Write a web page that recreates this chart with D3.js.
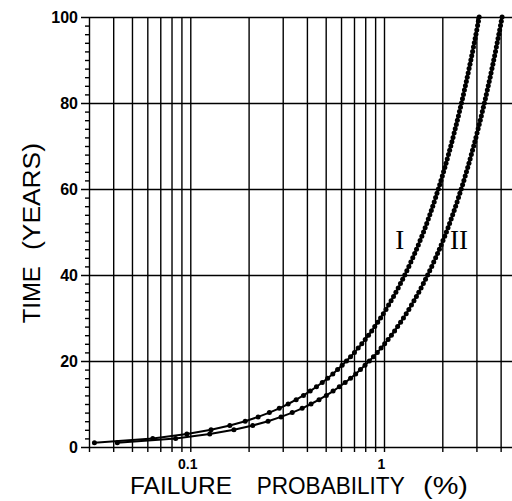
<!DOCTYPE html>
<meta charset="utf-8">
<html>
<head>
<style>
  body { margin: 0; background: #fff; }
  .tick text { font-family: "Liberation Sans", Arial, sans-serif; fill: #000; }
  .tick line { stroke: #000; stroke-width: 1.4; }
  .title { font-family: "Liberation Sans", Arial, sans-serif; font-size: 23px; fill: #000; }
  .curve-label { font-family: "Liberation Serif", "Times New Roman", serif; font-size: 27px; fill: #000; }
</style>
<title></title>
</head>
<body>
<div id="chart"></div>

<script src="https://d3js.org/d3.v7.min.js"></script>
<script>

// time in years (one marker per year)
var years = [1,2,3,4,5,6,7,8,9,10,11,12,13,14,15,16,17,18,19,20,
  21,22,23,24,25,26,27,28,29,30,31,32,33,34,35,36,37,38,39,40,
  41,42,43,44,45,46,47,48,49,50,51,52,53,54,55,56,57,58,59,60,
  61,62,63,64,65,66,67,68,69,70,71,72,73,74,75,76,77,78,79,80,
  81,82,83,84,85,86,87,88,89,90,91,92,93,94,95,96,97,98,99,100];

// failure probability (%) of curve I
var probI = [0.032,0.064,0.096,0.128,0.160,0.192,0.224,0.256,0.288,0.320,
  0.352,0.384,0.416,0.448,0.480,0.512,0.544,0.576,0.608,0.640,
  0.672,0.704,0.736,0.768,0.800,0.832,0.864,0.896,0.928,0.960,
  0.992,1.024,1.056,1.088,1.120,1.152,1.184,1.216,1.248,1.280,
  1.312,1.344,1.376,1.408,1.440,1.472,1.504,1.536,1.568,1.600,
  1.631,1.662,1.693,1.724,1.755,1.785,1.816,1.847,1.877,1.908,
  1.939,1.969,2.000,2.030,2.061,2.091,2.121,2.152,2.182,2.212,
  2.242,2.272,2.302,2.332,2.363,2.392,2.422,2.452,2.482,2.512,
  2.542,2.572,2.601,2.631,2.661,2.690,2.720,2.749,2.779,2.808,
  2.837,2.867,2.896,2.925,2.955,2.984,3.013,3.042,3.071,3.100];

// failure probability (%) of curve II
var probII = [0.042,0.084,0.126,0.168,0.210,0.252,0.294,0.336,0.378,0.420,
  0.462,0.504,0.546,0.588,0.630,0.672,0.714,0.756,0.798,0.840,
  0.882,0.924,0.966,1.008,1.050,1.092,1.134,1.176,1.218,1.260,
  1.302,1.344,1.386,1.428,1.470,1.512,1.554,1.596,1.638,1.680,
  1.722,1.764,1.806,1.848,1.890,1.932,1.974,2.016,2.058,2.100,
  2.141,2.181,2.222,2.262,2.303,2.343,2.384,2.424,2.464,2.504,
  2.545,2.585,2.625,2.665,2.705,2.745,2.784,2.824,2.864,2.904,
  2.943,2.983,3.022,3.062,3.101,3.141,3.180,3.219,3.258,3.298,
  3.337,3.376,3.415,3.454,3.493,3.532,3.570,3.609,3.648,3.686,
  3.725,3.764,3.802,3.840,3.879,3.917,3.955,3.994,4.032,4.070];

// grid lines / ticks
var xGridValues = [0.03,0.04,0.05,0.06,0.07,0.08,0.09,
  0.1,0.2,0.3,0.4,0.5,0.6,0.7,0.8,0.9,1,2,3,4,5];
var xLabelValues = [0.1, 1];
var yTickValues = [0,20,40,60,80,100];
var yMinorValues = [2,4,6,8,10,12,14,16,18,22,24,26,28,30,32,34,36,38,
  42,44,46,48,50,52,54,56,58,62,64,66,68,70,72,74,76,78,
  82,84,86,88,90,92,94,96,98];

var margin = {top: 17, left: 89},
    width = 430.4,
    height = 430;

var svg = d3.select("#chart")
  .append("svg")
    .attr("width", 512)
    .attr("height", 501)
  .append("g")
    .attr("transform", "translate(" + margin.left + "," + margin.top + ")");

var x = d3.scaleLog()
  .domain([0.03, 5])
  .range([0, width]);

var y = d3.scaleLinear()
  .domain([0, 100])
  .range([height, 0]);

// vertical grid + x ticks
var xAxis = svg.append("g")
  .attr("transform", "translate(0," + height + ")")
  .call(d3.axisBottom(x)
    .tickValues(xGridValues)
    .tickSize(-height)
    .tickSizeOuter(0)
    .tickFormat(function(d) { return xLabelValues.indexOf(d) >= 0 ? String(d) : ""; }));
xAxis.select(".domain").remove();
xAxis.selectAll(".tick line").attr("y1", 5);
xAxis.selectAll(".tick text")
  .attr("y", 22)
  .attr("dy", 0)
  .attr("dx", -3)
  .style("font-size", "14px")
  .style("font-weight", "bold");

// horizontal grid + y ticks
var yAxis = svg.append("g")
  .call(d3.axisLeft(y)
    .tickValues(yTickValues)
    .tickSize(-(512 - margin.left))
    .tickSizeOuter(0)
    .tickPadding(11));
yAxis.select(".domain").remove();
yAxis.selectAll(".tick line").attr("x1", -8);
yAxis.selectAll(".tick text")
  .style("font-size", "16px")
  .style("font-weight", "bold");

// minor y ticks
var yMinor = svg.append("g")
  .call(d3.axisLeft(y)
    .tickValues(yMinorValues)
    .tickSize(4)
    .tickSizeOuter(0)
    .tickFormat(""));
yMinor.select(".domain").remove();

// curves
var series = [probI, probII];
var line = d3.line()
  .x(function(d) { return x(d.p); })
  .y(function(d) { return y(d.t); });

series.forEach(function(s) {
  var pts = years.map(function(t, i) { return {t: t, p: s[i]}; });
  svg.append("path")
    .datum(pts)
    .attr("d", line)
    .attr("fill", "none")
    .attr("stroke", "#000")
    .attr("stroke-width", 2);
  svg.append("g")
    .selectAll("circle")
    .data(pts)
    .enter()
    .append("circle")
      .attr("cx", function(d) { return x(d.p); })
      .attr("cy", function(d) { return y(d.t); })
      .attr("r", 2.5)
      .attr("fill", "#000");
});

// curve labels
svg.append("text").attr("class", "curve-label")
  .attr("x", 399.8 - margin.left).attr("y", 249 - margin.top)
  .attr("text-anchor", "middle").text("I");
svg.append("text").attr("class", "curve-label")
  .attr("x", 459 - margin.left).attr("y", 249 - margin.top)
  .attr("text-anchor", "middle").text("II");

// x title
var xWords = [["FAILURE", 130, 102], ["PROBABILITY", 256.7, 148], ["(%)", 423, 45]];
xWords.forEach(function(w) {
  svg.append("text").attr("class", "title")
    .attr("x", w[1] - margin.left).attr("y", 494 - margin.top)
    .attr("textLength", w[2]).attr("lengthAdjust", "spacingAndGlyphs")
    .text(w[0]);
});

// y title
var yWords = [["TIME", 323.3, 57], ["(YEARS)", 250, 107]];
yWords.forEach(function(w) {
  svg.append("text").attr("class", "title")
    .attr("transform", "translate(" + (40 - margin.left) + "," + (w[1] - margin.top) + ") rotate(-90)")
    .attr("textLength", w[2]).attr("lengthAdjust", "spacingAndGlyphs")
    .text(w[0]);
});

</script>
</body>
</html>
